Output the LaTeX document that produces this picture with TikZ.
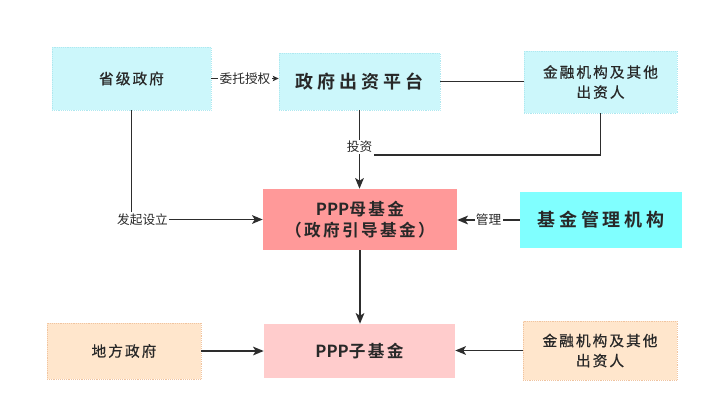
\documentclass[tikz,border=0pt]{standalone}
\usepackage{fontspec}
\setmainfont{Noto Sans CJK SC}[BoldFont={Noto Sans CJK SC Bold}]
\newfontfamily\cjk[LetterSpace=14,BoldFont={Noto Sans CJK SC Bold}]{Noto Sans CJK SC}
\newfontfamily\cjkmed[LetterSpace=14,FakeBold=0.7]{Noto Sans CJK SC}
\newfontfamily\cjkwide[LetterSpace=22,BoldFont={Noto Sans CJK SC Bold}]{Noto Sans CJK SC}
\usepackage{tikz}
\usetikzlibrary{arrows.meta,positioning}
\definecolor{lineDark}{RGB}{45,45,45}
\definecolor{txtDark}{RGB}{40,40,40}
\definecolor{cyanLight}{RGB}{204,247,251}
\definecolor{cyanBright}{RGB}{128,255,255}
\definecolor{cyanEdge}{RGB}{175,232,240}
\definecolor{boxRed}{RGB}{255,153,153}
\definecolor{boxPink}{RGB}{255,204,204}
\definecolor{boxPeach}{RGB}{255,230,204}
\definecolor{peachEdge}{RGB}{240,196,160}
\tikzset{
  basebox/.style={rectangle,inner sep=0pt,align=center,text=txtDark},
  smallfont/.style={font={\cjkmed\fontsize{11}{15}\selectfont}},
  bigfont/.style={font={\cjkwide\bfseries\fontsize{13.5}{16}\selectfont}},
  fundfont/.style={font={\cjk\bfseries\fontsize{12.5}{16}\selectfont}},
  cyanbox/.style={basebox,fill=cyanLight,draw=cyanEdge,densely dotted},
  mgrbox/.style={basebox,fill=cyanBright},
  motherbox/.style={basebox,fill=boxRed},
  childbox/.style={basebox,fill=boxPink},
  peachbox/.style={basebox,fill=boxPeach,draw=peachEdge,densely dotted},
  lbl/.style={fill=white,inner sep=1pt,text=txtDark,font={\fontsize{9.5}{11}\selectfont}},
  line/.style={line width=1.4pt,color=lineDark},
  arr/.style={line,-{Stealth[length=8pt,width=6.5pt,inset=2pt]}},
  smallarr/.style={line,-{Stealth[length=4.5pt,width=4pt,inset=1pt]}}
}
\begin{document}
\begin{tikzpicture}[x=0.75pt,y=-0.75pt]
  \useasboundingbox (0,0) rectangle (713,411);
  % top row
  \node[cyanbox,smallfont,minimum width=119.25pt,minimum height=47.25pt] (sheng) at (131.5,78.5) {省级政府};
  \node[cyanbox,bigfont,minimum width=120.75pt,minimum height=42.75pt] (pingtai) at (359.5,81.5) {政府出资平台};
  \node[cyanbox,smallfont,minimum width=114.75pt,minimum height=46.5pt] (jr1) at (600.5,82) {金融机构及其他\\出资人};
  % middle row
  \node[motherbox,fundfont,minimum width=145.5pt,minimum height=45.75pt] (mu) at (360,219.5) {{\rmfamily PPP}母基金\\（政府引导基金）};
  \node[mgrbox,bigfont,minimum width=121.5pt,minimum height=42pt] (guanli) at (601,220) {基金管理机构};
  % bottom row
  \node[peachbox,smallfont,minimum width=115.5pt,minimum height=42pt] (difang) at (124,351) {地方政府};
  \node[childbox,fundfont,minimum width=143.25pt,minimum height=40.5pt] (zi) at (359.5,351) {{\rmfamily PPP}子基金};
  \node[peachbox,smallfont,minimum width=115.5pt,minimum height=44.25pt] (jr2) at (600,350.5) {金融机构及其他\\出资人};

  \draw[smallarr] (sheng.east) -- node[lbl] {委托授权} (sheng.east -| pingtai.west);
  \draw[line] (pingtai.east) -- (pingtai.east -| jr1.west);
  \draw[arr] (pingtai.south) -- node[lbl,pos=0.47] (touzi) {投资} (pingtai.south |- mu.north);
  \draw[line] (jr1.south) |- (touzi.south east);
  \draw[arr] (sheng.south) |- node[lbl,pos=0.5,xshift=8.25pt] {发起设立} (mu.west);
  \draw[arr] (guanli.west) -- node[lbl] {管理} (guanli.west -| mu.east);
  \draw[arr] (mu.south) -- (mu.south |- zi.north);
  \draw[arr] (difang.east) -- (difang.east -| zi.west);
  \draw[arr] (jr2.west) -- (jr2.west -| zi.east);
\end{tikzpicture}
\end{document}
